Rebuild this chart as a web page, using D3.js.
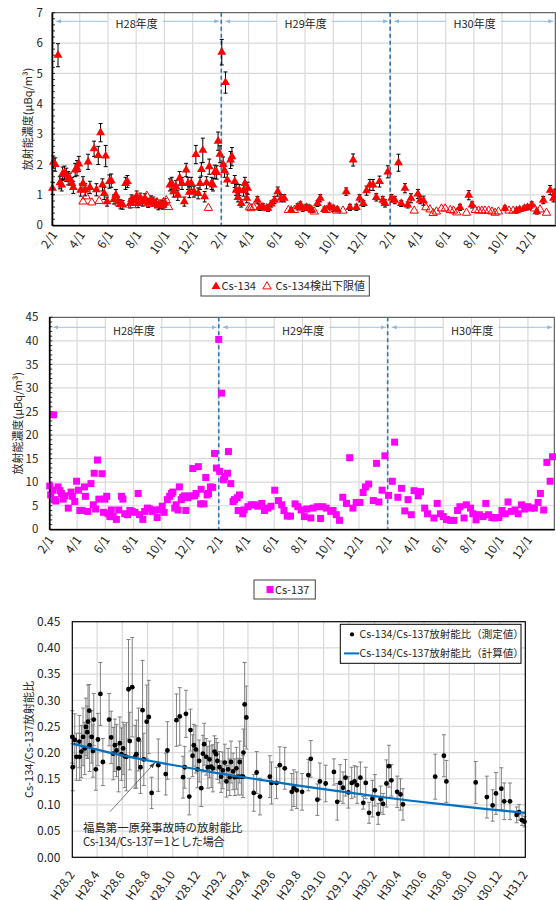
<!DOCTYPE html>
<html lang="ja">
<head>
<meta charset="utf-8">
<title>放射能濃度とCs-134/Cs-137放射能比</title>
<script src="https://cdn.jsdelivr.net/npm/d3@7/dist/d3.min.js"></script>
<style>
  html, body { margin: 0; padding: 0; background: #fff; }
  svg { display: block; font-family: 'Noto Sans CJK JP', 'Noto Sans', sans-serif; }
</style>
</head>
<body>
<svg id="chart" width="556" height="900"></svg>
<script>
// ---------------- data ----------------
const fiscalLabels = ["H28年度", "H29年度", "H30年度"];
const fiscalBounds = ["2016-02-01", "2017-02-01", "2018-02-01", "2019-02-01"];

const conc134Ticks = [0, 1, 2, 3, 4, 5, 6, 7];
const conc137Ticks = [0, 5, 10, 15, 20, 25, 30, 35, 40, 45];
const ratioTicks = [0, 0.05, 0.10, 0.15, 0.20, 0.25, 0.30, 0.35, 0.40, 0.45];
const ratioTickLabels = ["H28.2", "H28.4", "H28.6", "H28.8", "H28.10", "H28.12",
  "H29.2", "H29.4", "H29.6", "H29.8", "H29.10", "H29.12",
  "H30.2", "H30.4", "H30.6", "H30.8", "H30.10", "H30.12", "H31.2"];

// Cs-134 detected: [date, concentration µBq/m3, uncertainty]
const cs134 = [
  ["2016-02-02",1.22,.2],["2016-02-04",2.08,.2],["2016-02-08",2.00,.22],["2016-02-14",5.60,.38],
  ["2016-02-18",1.40,.2],["2016-02-22",1.33,.2],["2016-02-24",1.70,.22],["2016-02-28",1.73,.22],
  ["2016-03-03",1.66,.22],["2016-03-07",1.55,.22],["2016-03-11",1.52,.2],["2016-03-15",1.38,.2],
  ["2016-03-18",1.25,.2],["2016-03-22",1.82,.22],["2016-03-26",1.88,.25],["2016-03-30",2.02,.25],
  ["2016-04-03",1.16,.2],["2016-04-08",1.38,.22],["2016-04-13",1.17,.2],["2016-04-19",2.09,.25],
  ["2016-04-23",1.25,.2],["2016-05-02",2.52,.25],["2016-05-07",1.17,.2],["2016-05-11",2.30,.3],
  ["2016-05-16",3.05,.3],["2016-05-20",1.33,.2],["2016-05-24",1.05,.2],["2016-05-27",2.28,.35],
  ["2016-05-30",0.78,.15],["2016-06-04",1.44,.22],["2016-06-08",1.47,.22],["2016-06-14",0.85,.15],
  ["2016-06-18",1.00,.18],["2016-06-23",0.78,.15],["2016-06-28",0.69,.15],["2016-07-03",0.67,.14],
  ["2016-07-09",1.38,.2],["2016-07-13",1.44,.2],["2016-07-19",0.72,.15],["2016-07-22",0.85,.15],
  ["2016-07-27",0.81,.15],["2016-08-02",0.96,.17],["2016-08-05",0.72,.14],["2016-08-10",0.90,.16],
  ["2016-08-15",0.78,.15],["2016-08-20",0.88,.16],["2016-08-27",0.74,.15],["2016-09-02",0.82,.15],
  ["2016-09-07",0.78,.15],["2016-09-13",0.72,.14],["2016-09-18",0.64,.13],["2016-09-23",0.69,.14],
  ["2016-09-28",0.67,.14],["2016-10-02",0.74,.14],["2016-10-13",1.33,.2],["2016-10-17",1.38,.2],
  ["2016-10-21",1.11,.18],["2016-10-26",1.27,.2],["2016-10-30",0.99,.17],["2016-11-03",1.55,.22],
  ["2016-11-08",1.38,.2],["2016-11-13",0.78,.15],["2016-11-17",1.82,.22],["2016-11-21",1.38,.2],
  ["2016-11-24",1.09,.18],["2016-11-28",1.38,.2],["2016-12-04",1.11,.18],["2016-12-08",2.33,.3],
  ["2016-12-13",1.05,.18],["2016-12-17",1.38,.2],["2016-12-20",1.84,.22],["2016-12-23",2.47,.4],
  ["2016-12-27",0.94,.17],["2016-12-31",1.40,.2],["2017-01-06",1.93,.25],["2017-01-11",1.38,.2],
  ["2017-01-14",1.33,.2],["2017-01-18",1.76,.22],["2017-01-22",1.74,.22],["2017-01-25",2.77,.3],
  ["2017-01-29",2.34,.28],
  ["2017-02-02",5.70,.42],["2017-02-05",2.00,.25],["2017-02-08",1.80,.22],["2017-02-10",4.70,.35],
  ["2017-02-14",1.49,.2],["2017-02-21",2.15,.28],["2017-02-24",2.26,.3],["2017-03-02",1.44,.2],
  ["2017-03-05",1.16,.18],["2017-03-09",0.92,.15],["2017-03-12",1.16,.18],["2017-03-16",0.72,.12],
  ["2017-03-21",1.14,.18],["2017-03-24",1.38,.2],["2017-03-28",0.89,.15],["2017-03-30",1.22,.2],
  ["2017-04-20",0.83,.12],["2017-04-25",0.59,.1],["2017-05-02",0.61,.1],["2017-05-13",0.56,.1],
  ["2017-05-20",0.70,.1],["2017-05-27",0.83,.12],["2017-06-03",1.11,.15],["2017-06-10",0.89,.12],
  ["2017-06-17",0.89,.12],["2017-07-02",0.50,.08],["2017-07-16",0.61,.1],["2017-07-22",0.67,.1],
  ["2017-07-27",0.56,.1],["2017-08-04",0.59,.1],["2017-08-11",0.56,.1],["2017-08-16",0.50,.08],
  ["2017-08-28",0.72,.1],["2017-09-03",0.89,.12],["2017-09-12",0.52,.08],["2017-09-23",0.63,.1],
  ["2017-10-01",0.56,.1],["2017-10-10",0.52,.08],["2017-10-29",1.11,.12],["2017-11-06",0.59,.1],
  ["2017-11-13",2.15,.2],["2017-11-20",0.59,.1],["2017-11-27",0.89,.12],["2017-12-05",0.72,.1],
  ["2017-12-12",1.14,.15],["2017-12-19",1.33,.18],["2017-12-26",1.33,.18],["2018-01-02",0.92,.12],
  ["2018-01-09",1.44,.18],["2018-01-16",0.83,.12],["2018-01-21",0.72,.12],["2018-01-27",1.76,.2],
  ["2018-02-04",0.89,.12],["2018-02-11",0.83,.12],["2018-02-19",2.06,.28],["2018-02-25",0.72,.1],
  ["2018-03-05",1.22,.15],["2018-03-11",0.67,.1],["2018-03-18",0.89,.15],["2018-04-02",1.03,.15],
  ["2018-04-07",0.83,.12],["2018-04-14",0.81,.15],["2018-07-02",0.59,.1],["2018-07-21",0.99,.15],
  ["2018-07-28",0.67,.1],["2018-10-07",0.56,.08],["2018-11-01",0.48,.08],["2018-11-08",0.52,.08],
  ["2018-11-18",0.56,.08],["2018-11-25",0.59,.08],["2018-12-04",0.67,.1],["2018-12-15",0.45,.08],
  ["2018-12-29",0.83,.12],["2019-01-13",1.16,.15],["2019-01-20",0.89,.12],["2019-01-23",1.05,.14]
];

// Cs-134 not detected: [date, detection limit µBq/m3]
const cs134Limit = [
  ["2016-04-08",0.78],["2016-04-15",0.95],["2016-04-27",0.75],["2016-05-13",0.80],["2016-06-25",0.72],
  ["2016-07-23",0.66],["2016-08-13",0.74],["2016-08-24",0.97],["2016-08-31",0.70],["2016-09-15",0.76],
  ["2016-09-29",0.76],["2016-10-05",0.82],["2016-10-10",0.60],["2017-01-04",0.57],
  ["2017-04-03",0.59],["2017-04-06",0.56],["2017-04-12",0.59],["2017-05-10",0.56],["2017-06-26",0.50],
  ["2017-07-09",0.50],["2017-08-21",0.45],["2017-09-16",0.50],["2017-10-08",0.48],["2017-10-22",0.48],
  ["2018-03-25",0.48],["2018-04-19",0.59],["2018-04-28",0.52],["2018-05-05",0.40],["2018-05-12",0.45],
  ["2018-05-23",0.55],["2018-05-31",0.55],["2018-06-11",0.50],["2018-06-18",0.48],["2018-06-25",0.42],
  ["2018-07-16",0.41],["2018-08-04",0.50],["2018-08-11",0.48],["2018-08-18",0.48],["2018-08-25",0.48],
  ["2018-09-02",0.48],["2018-09-09",0.45],["2018-09-16",0.41],["2018-09-23",0.45],["2018-10-16",0.48],
  ["2018-10-25",0.48],["2018-12-10",0.55],["2018-12-22",0.52],["2019-01-05",0.41]
];

// Cs-137: [date, concentration µBq/m3]
const cs137 = [
  ["2016-02-02",9.2],["2016-02-04",7.3],["2016-02-08",8.3],["2016-02-10",24.3],["2016-02-12",6.3],
  ["2016-02-15",6.0],["2016-02-20",9.0],["2016-02-24",8.2],["2016-02-27",7.6],["2016-03-02",6.4],
  ["2016-03-06",7.1],["2016-03-13",4.5],["2016-03-19",7.9],["2016-03-22",7.0],["2016-03-27",5.9],
  ["2016-03-31",10.2],["2016-04-04",8.3],["2016-04-07",4.0],["2016-04-12",4.0],["2016-04-17",9.0],
  ["2016-04-19",7.0],["2016-04-24",3.8],["2016-05-01",9.7],["2016-05-06",5.2],["2016-05-08",11.9],
  ["2016-05-11",4.3],["2016-05-15",14.7],["2016-05-18",6.4],["2016-05-25",11.8],["2016-05-28",3.6],
  ["2016-05-31",6.4],["2016-06-04",7.0],["2016-06-07",3.3],["2016-06-11",2.7],["2016-06-14",4.1],
  ["2016-06-18",2.7],["2016-06-25",2.1],["2016-06-30",4.1],["2016-07-06",7.0],["2016-07-09",6.4],
  ["2016-07-13",3.3],["2016-07-19",3.1],["2016-07-24",4.0],["2016-07-29",3.8],["2016-08-04",3.6],
  ["2016-08-11",7.6],["2016-08-14",3.1],["2016-08-21",2.1],["2016-08-25",3.8],["2016-08-31",4.5],
  ["2016-09-05",4.3],["2016-09-10",3.8],["2016-09-15",4.1],["2016-09-21",2.5],["2016-09-26",4.1],
  ["2016-10-02",4.9],["2016-10-06",3.6],["2016-10-13",6.3],["2016-10-18",7.0],["2016-10-22",7.6],
  ["2016-10-25",7.9],["2016-10-29",4.5],["2016-11-01",5.2],["2016-11-05",4.1],["2016-11-08",9.0],
  ["2016-11-12",6.3],["2016-11-15",6.8],["2016-11-19",7.1],["2016-11-22",4.0],["2016-11-26",6.7],
  ["2016-12-02",7.1],["2016-12-07",12.9],["2016-12-11",7.1],["2016-12-14",7.6],["2016-12-19",13.3],
  ["2016-12-24",5.4],["2016-12-25",8.5],["2016-12-31",5.4],["2017-01-04",11.0],["2017-01-07",7.3],
  ["2017-01-10",7.6],["2017-01-14",9.0],["2017-01-19",8.9],["2017-01-23",16.1],["2017-01-27",13.0],
  ["2017-02-01",40.3],["2017-02-03",12.3],["2017-02-07",28.9],["2017-02-11",10.5],["2017-02-14",11.2],
  ["2017-02-20",11.9],["2017-02-22",16.5],["2017-02-27",9.7],["2017-03-04",5.9],["2017-03-07",6.3],
  ["2017-03-13",6.7],["2017-03-15",4.0],["2017-03-18",7.3],["2017-03-25",3.3],["2017-03-28",4.1],
  ["2017-04-05",4.8],["2017-04-12",5.2],["2017-04-19",5.2],["2017-04-26",4.9],["2017-05-05",5.5],
  ["2017-05-11",4.0],["2017-05-18",4.5],["2017-05-25",4.9],["2017-06-02",8.3],["2017-06-10",6.1],
  ["2017-06-17",5.2],["2017-06-22",4.0],["2017-06-29",2.8],["2017-07-06",2.8],["2017-07-16",5.4],
  ["2017-07-22",4.8],["2017-07-29",4.1],["2017-08-05",2.7],["2017-08-10",4.3],["2017-08-19",2.4],
  ["2017-08-24",4.5],["2017-09-02",4.8],["2017-09-09",2.3],["2017-09-14",4.8],["2017-09-21",4.5],
  ["2017-10-01",3.8],["2017-10-06",4.0],["2017-10-13",3.1],["2017-10-20",1.9],["2017-10-27",6.8],
  ["2017-11-04",5.5],["2017-11-11",15.2],["2017-11-18",4.5],["2017-11-25",5.7],["2017-12-03",5.7],
  ["2017-12-10",7.8],["2017-12-15",9.0],["2017-12-22",9.6],["2018-01-01",6.1],["2018-01-08",14.0],
  ["2018-01-13",5.8],["2018-01-20",8.3],["2018-01-26",15.6],
  ["2018-02-03",7.2],["2018-02-11",10.2],["2018-02-16",18.5],["2018-02-23",6.8],["2018-03-03",8.7],
  ["2018-03-10",3.9],["2018-03-17",6.3],["2018-03-24",3.1],["2018-03-30",8.2],["2018-04-08",7.1],
  ["2018-04-13",8.0],["2018-04-22",4.5],["2018-04-28",3.3],["2018-05-12",2.4],["2018-05-19",5.5],
  ["2018-05-26",3.3],["2018-06-01",2.7],["2018-06-08",2.1],["2018-06-17",1.9],["2018-06-24",1.9],
  ["2018-07-02",4.0],["2018-07-07",4.8],["2018-07-16",2.4],["2018-07-21",5.2],["2018-07-30",4.5],
  ["2018-08-04",3.3],["2018-08-11",2.0],["2018-08-18",3.1],["2018-08-26",2.7],["2018-09-01",5.5],
  ["2018-09-07",3.1],["2018-09-14",2.5],["2018-09-20",2.4],["2018-09-29",2.5],["2018-10-06",4.0],
  ["2018-10-13",3.3],["2018-10-19",5.8],["2018-10-26",3.8],["2018-11-03",4.1],["2018-11-10",3.3],
  ["2018-11-17",5.2],["2018-11-24",4.3],["2018-12-01",4.8],["2018-12-08",4.5],["2018-12-15",4.5],
  ["2018-12-23",5.7],["2018-12-28",7.6],["2019-01-04",4.1],["2019-01-11",14.2],["2019-01-18",10.2],
  ["2019-01-23",15.4]
];

// measured Cs-134/Cs-137 activity ratio: [date, ratio, uncertainty]
const ratioMeasured = [
  ["2016-02-01",0.230,0.05],["2016-02-02",0.172,0.045],["2016-02-07",0.224,0.05],["2016-02-11",0.192,0.045],
  ["2016-02-18",0.221,0.05],["2016-02-19",0.192,0.045],["2016-02-23",0.202,0.05],["2016-02-27",0.230,0.055],
  ["2016-03-02",0.208,0.05],["2016-03-05",0.249,0.055],["2016-03-08",0.239,0.05],["2016-03-10",0.259,0.07],
  ["2016-03-13",0.280,0.05],["2016-03-14",0.214,0.05],["2016-03-19",0.230,0.05],["2016-03-22",0.203,0.05],
  ["2016-03-24",0.263,0.05],["2016-03-29",0.168,0.04],["2016-04-03",0.225,0.05],["2016-04-09",0.312,0.06],
  ["2016-04-15",0.182,0.045],["2016-04-30",0.263,0.05],["2016-05-05",0.229,0.05],["2016-05-10",0.198,0.05],
  ["2016-05-14",0.214,0.05],["2016-05-18",0.204,0.05],["2016-05-23",0.170,0.045],["2016-05-26",0.218,0.05],
  ["2016-05-30",0.197,0.05],["2016-06-03",0.208,0.05],["2016-06-07",0.193,0.06],["2016-06-11",0.192,0.065],
  ["2016-06-16",0.321,0.095],["2016-06-19",0.222,0.055],["2016-06-25",0.325,0.095],["2016-07-02",0.192,0.06],
  ["2016-07-05",0.197,0.065],["2016-07-10",0.225,0.06],["2016-07-15",0.172,0.05],["2016-07-20",0.281,0.095],
  ["2016-07-23",0.187,0.05],["2016-07-30",0.259,0.07],["2016-08-04",0.268,0.07],["2016-08-11",0.123,0.03],
  ["2016-08-27",0.176,0.05],["2016-09-14",0.159,0.04],["2016-09-18",0.204,0.055],["2016-10-10",0.262,0.05],
  ["2016-10-18",0.269,0.055],["2016-10-26",0.153,0.04],["2016-10-30",0.172,0.04],["2016-11-02",0.274,0.045],
  ["2016-11-10",0.116,0.035],["2016-11-13",0.243,0.04],["2016-11-18",0.194,0.04],["2016-11-21",0.214,0.04],
  ["2016-11-26",0.206,0.045],["2016-11-30",0.168,0.035],["2016-12-04",0.184,0.04],["2016-12-09",0.132,0.035],
  ["2016-12-13",0.198,0.035],["2016-12-16",0.216,0.04],["2016-12-21",0.192,0.035],["2016-12-25",0.172,0.04],
  ["2016-12-29",0.187,0.035],["2017-01-02",0.173,0.04],["2017-01-06",0.170,0.045],["2017-01-10",0.202,0.03],
  ["2017-01-14",0.197,0.03],["2017-01-17",0.184,0.035],["2017-01-22",0.172,0.03],["2017-01-26",0.154,0.03],
  ["2017-01-30",0.166,0.035],["2017-02-04",0.181,0.035],["2017-02-08",0.145,0.03],["2017-02-12",0.168,0.04],
  ["2017-02-16",0.153,0.035],["2017-02-19",0.182,0.04],["2017-02-24",0.164,0.035],["2017-02-28",0.153,0.035],
  ["2017-03-04",0.170,0.04],["2017-03-08",0.154,0.035],["2017-03-12",0.182,0.04],["2017-03-16",0.154,0.035],
  ["2017-03-20",0.154,0.04],["2017-03-21",0.200,0.045],["2017-03-24",0.292,0.08],["2017-03-28",0.267,0.06],
  ["2017-04-15",0.123,0.035],["2017-04-22",0.162,0.04],["2017-04-30",0.116,0.035],["2017-05-24",0.154,0.04],
  ["2017-05-28",0.142,0.04],["2017-06-09",0.142,0.03],["2017-06-17",0.176,0.035],["2017-06-29",0.170,0.04],
  ["2017-07-16",0.125,0.035],["2017-07-21",0.132,0.035],["2017-07-28",0.128,0.035],["2017-08-10",0.125,0.035],
  ["2017-08-25",0.157,0.03],["2017-08-31",0.188,0.035],["2017-09-16",0.110,0.03],["2017-09-22",0.145,0.035],
  ["2017-10-06",0.141,0.035],["2017-10-26",0.163,0.025],["2017-11-03",0.106,0.035],["2017-11-10",0.142,0.035],
  ["2017-11-17",0.133,0.03],["2017-11-23",0.152,0.035],["2017-11-30",0.124,0.03],["2017-12-08",0.142,0.03],
  ["2017-12-15",0.145,0.03],["2017-12-21",0.138,0.035],["2017-12-29",0.152,0.03],["2018-01-05",0.104,0.012],
  ["2018-01-11",0.142,0.03],["2018-01-19",0.085,0.02],["2018-01-27",0.112,0.035],["2018-02-02",0.128,0.03],
  ["2018-02-10",0.083,0.02],["2018-02-16",0.111,0.025],["2018-02-22",0.102,0.02],["2018-03-02",0.141,0.045],
  ["2018-03-08",0.174,0.04],["2018-03-14",0.147,0.03],["2018-03-28",0.125,0.03],["2018-04-05",0.120,0.03],
  ["2018-04-11",0.101,0.03],["2018-06-28",0.154,0.043],["2018-07-19",0.194,0.04],["2018-07-25",0.145,0.04],
  ["2018-10-04",0.143,0.04],["2018-10-31",0.115,0.04],["2018-11-14",0.099,0.03],["2018-11-22",0.122,0.04],
  ["2018-12-05",0.131,0.04],["2018-12-12",0.107,0.035],["2018-12-26",0.107,0.035],["2019-01-11",0.081,0.015],
  ["2019-01-17",0.086,0.015],["2019-01-24",0.071,0.01],["2019-01-30",0.068,0.01]
];

// calculated ratio assuming Cs-134/Cs-137 = 1 at the time of the accident
const ratioCalcDates = ["2016-02-01","2016-05-01","2016-08-01","2016-11-01","2017-02-01","2017-05-01",
  "2017-08-01","2017-11-01","2018-02-01","2018-05-01","2018-08-01","2018-11-01","2019-02-01"];
const ratioCalcValues = [0.217,0.200,0.185,0.172,0.159,0.148,0.137,0.127,0.117,0.108,0.100,0.092,0.085];

// ---------------- drawing ----------------
const parse = d3.timeParse("%Y-%m-%d");
const svg = d3.select("#chart");
const TEXT = "#262626";
const GRID = "#d9d9d9";

const defs = svg.append("defs");
defs.append("marker")
  .attr("id", "spanArrow").attr("viewBox", "0 0 6 6")
  .attr("refX", 6).attr("refY", 3)
  .attr("markerWidth", 5).attr("markerHeight", 5)
  .attr("markerUnits", "userSpaceOnUse").attr("orient", "auto")
  .append("path").attr("d", "M0,0.6L6,3L0,5.4Z").attr("fill", "#8db6df");
defs.append("marker")
  .attr("id", "noteArrow").attr("viewBox", "0 0 8 6")
  .attr("refX", 8).attr("refY", 3)
  .attr("markerWidth", 6).attr("markerHeight", 4.5)
  .attr("markerUnits", "userSpaceOnUse").attr("orient", "auto")
  .append("path").attr("d", "M0,0L8,3L0,6Z").attr("fill", "#404040");

function tidyAxis(sel, size) {
  sel.attr("font-family", null).attr("font-size", null);
  sel.selectAll("text").attr("fill", TEXT).attr("font-size", size);
}

function concentrationPanel(o) {
  const x = d3.scaleTime().domain([parse(o.start), parse(o.end)]).range([o.left, o.right]);
  const y = d3.scaleLinear().domain(d3.extent(o.yTicks)).range([o.bottom, o.top]);
  const monthTicks = d3.timeMonth.range(parse(o.start), parse(o.end), 2);
  const g = svg.append("g");

  // gridlines
  g.append("g").selectAll("line").data(o.yTicks.slice(1, -1)).join("line")
    .attr("x1", o.left).attr("x2", o.right)
    .attr("y1", d => y(d)).attr("y2", d => y(d))
    .attr("stroke", GRID).attr("stroke-width", 1.2);
  g.append("g").selectAll("line").data(monthTicks.slice(1)).join("line")
    .attr("x1", d => x(d)).attr("x2", d => x(d))
    .attr("y1", o.top).attr("y2", o.bottom)
    .attr("stroke", GRID).attr("stroke-width", 1.2);

  // plot frame
  g.append("rect").attr("x", o.left).attr("y", o.top)
    .attr("width", o.right - o.left).attr("height", o.bottom - o.top)
    .attr("fill", "none").attr("stroke", "#404040").attr("stroke-width", 1);

  // minor ticks along the value axis
  const yMax = o.yTicks[o.yTicks.length - 1];
  g.append("g").selectAll("line").data(d3.range(0, yMax + 1e-9, o.minor)).join("line")
    .attr("x1", o.left).attr("x2", o.left + 3)
    .attr("y1", d => y(d)).attr("y2", d => y(d))
    .attr("stroke", "#000").attr("stroke-width", 0.8);

  // fiscal-year boundaries
  g.append("g").selectAll("line").data(fiscalBounds.slice(1, -1)).join("line")
    .attr("x1", d => x(parse(d))).attr("x2", d => x(parse(d)))
    .attr("y1", o.top).attr("y2", o.bottom)
    .attr("stroke", "#2e75b6").attr("stroke-width", 1.6).attr("stroke-dasharray", "4,3");

  // fiscal-year labels with span arrows
  fiscalLabels.forEach((lab, i) => {
    const xs = x(parse(fiscalBounds[i])), xe = x(parse(fiscalBounds[i + 1]));
    const cx = (xs + xe) / 2;
    const xEnd = Math.min(xe, o.right) - 2;
    g.append("line").attr("x1", cx - 29).attr("x2", xs + 4)
      .attr("y1", o.arrowY).attr("y2", o.arrowY)
      .attr("stroke", "#9dc3e6").attr("stroke-width", 1).attr("marker-end", "url(#spanArrow)");
    g.append("line").attr("x1", cx + 26).attr("x2", xEnd)
      .attr("y1", o.arrowY).attr("y2", o.arrowY)
      .attr("stroke", "#9dc3e6").attr("stroke-width", 1).attr("marker-end", "url(#spanArrow)");
    g.append("text").attr("x", cx).attr("y", o.labelY)
      .attr("text-anchor", "middle").attr("font-size", 11).attr("fill", TEXT).text(lab);
  });

  o.marks(g.append("g"), x, y);

  // axes
  const ya = g.append("g").attr("transform", `translate(${o.left},0)`)
    .call(d3.axisLeft(y).tickValues(o.yTicks).tickFormat(d3.format("d"))
      .tickSize(0).tickSizeOuter(0).tickPadding(o.yPad));
  tidyAxis(ya, 11.5);
  ya.select(".domain").attr("stroke", "#000").attr("stroke-width", 1.6);

  const xa = g.append("g").attr("transform", `translate(0,${o.bottom})`)
    .call(d3.axisBottom(x).tickValues(monthTicks).tickFormat(d3.timeFormat("%-m/%-d"))
      .tickSize(0).tickSizeOuter(0));
  tidyAxis(xa, 12);
  xa.select(".domain").attr("stroke", "#000").attr("stroke-width", 1.6);
  xa.selectAll("text").attr("x", 0).attr("y", 0).attr("dy", "0.35em")
    .attr("transform", `translate(${o.labelDx},${o.labelDy}) rotate(-55)`)
    .attr("text-anchor", "end");

  // y-axis title
  g.append("text")
    .attr("transform", `translate(${o.titleX},${(o.top + o.bottom) / 2}) rotate(-90)`)
    .attr("text-anchor", "middle").attr("dy", "0.35em")
    .attr("font-size", 11).attr("fill", TEXT)
    .text("放射能濃度(μBq/m³)");
  return { x, y };
}

// ---- Cs-134 concentration ----
concentrationPanel({
  start: "2016-02-01", end: "2019-01-24",
  left: 52, right: 555.3, top: 12.7, bottom: 225.3,
  yTicks: conc134Ticks, minor: 0.2, yPad: 9,
  arrowY: 21.3, labelY: 28.3, titleX: 28,
  labelDx: 2, labelDy: 7,
  marks: (g, x, y) => {
    const px = d => x(parse(d[0]));
    const bars = g.append("g").attr("stroke", "#000").attr("stroke-width", 1);
    bars.append("g").selectAll("line").data(cs134).join("line")
      .attr("x1", px).attr("x2", px)
      .attr("y1", d => y(d[1] - d[2])).attr("y2", d => y(d[1] + d[2]));
    bars.append("g").selectAll("line").data(cs134).join("line")
      .attr("x1", d => px(d) - 2).attr("x2", d => px(d) + 2)
      .attr("y1", d => y(d[1] + d[2])).attr("y2", d => y(d[1] + d[2]));
    bars.append("g").selectAll("line").data(cs134).join("line")
      .attr("x1", d => px(d) - 2).attr("x2", d => px(d) + 2)
      .attr("y1", d => y(d[1] - d[2])).attr("y2", d => y(d[1] - d[2]));
    g.append("g").selectAll("path").data(cs134).join("path")
      .attr("transform", d => `translate(${px(d)},${y(d[1])})`)
      .attr("d", d3.symbol(d3.symbolTriangle, 34))
      .attr("fill", "#ff0000");
    g.append("g").selectAll("path").data(cs134Limit).join("path")
      .attr("transform", d => `translate(${px(d)},${y(d[1])})`)
      .attr("d", d3.symbol(d3.symbolTriangle, 30))
      .attr("fill", "none").attr("stroke", "#ff0000").attr("stroke-width", 1);
  }
});

// legend for Cs-134
{
  const lg = svg.append("g");
  lg.append("rect").attr("x", 201).attr("y", 276).attr("width", 168.3).attr("height", 20)
    .attr("fill", "#fff").attr("stroke", "#404040").attr("stroke-width", 1);
  lg.append("path").attr("transform", "translate(216,286.5)")
    .attr("d", d3.symbol(d3.symbolTriangle, 34)).attr("fill", "#ff0000");
  lg.append("text").attr("x", 221.5).attr("y", 290.3).attr("font-size", 11).attr("fill", TEXT).text("Cs-134");
  lg.append("path").attr("transform", "translate(267,286.5)")
    .attr("d", d3.symbol(d3.symbolTriangle, 30)).attr("fill", "none").attr("stroke", "#ff0000");
  lg.append("text").attr("x", 275.5).attr("y", 290.3).attr("font-size", 11).attr("fill", TEXT).text("Cs-134検出下限値");
}

// ---- Cs-137 concentration ----
concentrationPanel({
  start: "2016-02-01", end: "2019-01-27",
  left: 49.3, right: 554.3, top: 317.3, bottom: 529.3,
  yTicks: conc137Ticks, minor: 1, yPad: 11,
  arrowY: 327.3, labelY: 334.6, titleX: 18,
  labelDx: 1, labelDy: 8,
  marks: (g, x, y) => {
    g.append("g").selectAll("rect").data(cs137).join("rect")
      .attr("x", d => x(parse(d[0])) - 3.5).attr("y", d => y(d[1]) - 3.5)
      .attr("width", 7).attr("height", 7)
      .attr("fill", "#ff00ff");
  }
});

// legend for Cs-137
{
  const lg = svg.append("g");
  lg.append("rect").attr("x", 254).attr("y", 580).attr("width", 61.3).attr("height", 19)
    .attr("fill", "#fff").attr("stroke", "#404040").attr("stroke-width", 1);
  lg.append("rect").attr("x", 266.5).attr("y", 586).attr("width", 7).attr("height", 7).attr("fill", "#ff00ff");
  lg.append("text").attr("x", 275).attr("y", 593.8).attr("font-size", 11).attr("fill", TEXT).text("Cs-137");
}

// ---- Cs-134/Cs-137 activity ratio ----
{
  const left = 72.3, right = 525.3, top = 621.7, bottom = 857.3;
  const x = d3.scaleTime().domain([parse("2016-02-01"), parse("2019-02-01")]).range([left, right]);
  const y = d3.scaleLinear().domain([0, 0.45]).range([bottom, top]);
  const tickDates = d3.timeMonth.range(parse("2016-02-01"), parse("2019-02-02"), 2);
  const g = svg.append("g");

  g.append("g").selectAll("line").data(ratioTicks.slice(1, -1)).join("line")
    .attr("x1", left).attr("x2", right).attr("y1", d => y(d)).attr("y2", d => y(d))
    .attr("stroke", GRID).attr("stroke-width", 1.2);
  g.append("g").selectAll("line").data(tickDates.slice(1, -1)).join("line")
    .attr("x1", d => x(d)).attr("x2", d => x(d)).attr("y1", top).attr("y2", bottom)
    .attr("stroke", GRID).attr("stroke-width", 1.2);

  // uncertainty bars
  const px = d => x(parse(d[0]));
  const bars = g.append("g").attr("stroke", "#808080").attr("stroke-width", 1);
  bars.append("g").selectAll("line").data(ratioMeasured).join("line")
    .attr("x1", px).attr("x2", px)
    .attr("y1", d => y(d[1] - d[2])).attr("y2", d => y(d[1] + d[2]));
  bars.append("g").selectAll("line").data(ratioMeasured).join("line")
    .attr("x1", d => px(d) - 2).attr("x2", d => px(d) + 2)
    .attr("y1", d => y(d[1] + d[2])).attr("y2", d => y(d[1] + d[2]));
  bars.append("g").selectAll("line").data(ratioMeasured).join("line")
    .attr("x1", d => px(d) - 2).attr("x2", d => px(d) + 2)
    .attr("y1", d => y(d[1] - d[2])).attr("y2", d => y(d[1] - d[2]));

  g.append("g").selectAll("circle").data(ratioMeasured).join("circle")
    .attr("cx", px).attr("cy", d => y(d[1])).attr("r", 2.4).attr("fill", "#000");

  // calculated decay curve
  g.append("path")
    .datum(ratioCalcDates.map((d, i) => [parse(d), ratioCalcValues[i]]))
    .attr("d", d3.line().x(d => x(d[0])).y(d => y(d[1])).curve(d3.curveMonotoneX))
    .attr("fill", "none").attr("stroke", "#0070c0").attr("stroke-width", 2.2);

  g.append("rect").attr("x", left).attr("y", top)
    .attr("width", right - left).attr("height", bottom - top)
    .attr("fill", "none").attr("stroke", "#000").attr("stroke-width", 1.2);

  const ya = g.append("g").attr("transform", `translate(${left},0)`)
    .call(d3.axisLeft(y).tickValues(ratioTicks).tickFormat(d3.format(".2f"))
      .tickSize(0).tickSizeOuter(0).tickPadding(12));
  tidyAxis(ya, 12);
  ya.select(".domain").attr("stroke", "none");

  const xa = g.append("g").attr("transform", `translate(0,${bottom})`)
    .call(d3.axisBottom(x).tickValues(tickDates).tickFormat((d, i) => ratioTickLabels[i])
      .tickSize(0).tickSizeOuter(0));
  tidyAxis(xa, 12);
  xa.select(".domain").attr("stroke", "none");
  xa.selectAll("text").attr("x", 0).attr("y", 0).attr("dy", "0.35em")
    .attr("transform", "translate(-1,15) rotate(-55)")
    .attr("text-anchor", "end");

  g.append("text")
    .attr("transform", `translate(29,${(top + bottom) / 2}) rotate(-90)`)
    .attr("text-anchor", "middle").attr("dy", "0.35em")
    .attr("font-size", 11).attr("fill", TEXT)
    .text("Cs-134/Cs-137放射能比");

  // annotation for the calculated curve
  g.append("line").attr("x1", 110).attr("y1", 811.7).attr("x2", 155).attr("y2", 762.5)
    .attr("stroke", "#404040").attr("stroke-width", 0.7).attr("marker-end", "url(#noteArrow)");
  g.append("text").attr("x", 83).attr("y", 831.8).attr("font-size", 11.4).attr("fill", TEXT)
    .text("福島第一原発事故時の放射能比");
  g.append("text").attr("x", 83).attr("y", 846).attr("font-size", 11.4).attr("fill", TEXT)
    .attr("letter-spacing", "-0.45").text("Cs-134/Cs-137＝1とした場合");

  // legend
  const lg = g.append("g");
  lg.append("rect").attr("x", 340.3).attr("y", 624.3).attr("width", 180.7).attr("height", 39)
    .attr("fill", "#fff").attr("stroke", "#000").attr("stroke-width", 1);
  lg.append("circle").attr("cx", 352).attr("cy", 634.4).attr("r", 2.1).attr("fill", "#000");
  lg.append("text").attr("x", 359.5).attr("y", 638.2).attr("font-size", 10.5).attr("fill", TEXT)
    .text("Cs-134/Cs-137放射能比（測定値）");
  lg.append("line").attr("x1", 344).attr("x2", 359.3).attr("y1", 653.4).attr("y2", 653.4)
    .attr("stroke", "#0070c0").attr("stroke-width", 2);
  lg.append("text").attr("x", 359.5).attr("y", 657.2).attr("font-size", 10.5).attr("fill", TEXT)
    .text("Cs-134/Cs-137放射能比（計算値）");
}
</script>
</body>
</html>
